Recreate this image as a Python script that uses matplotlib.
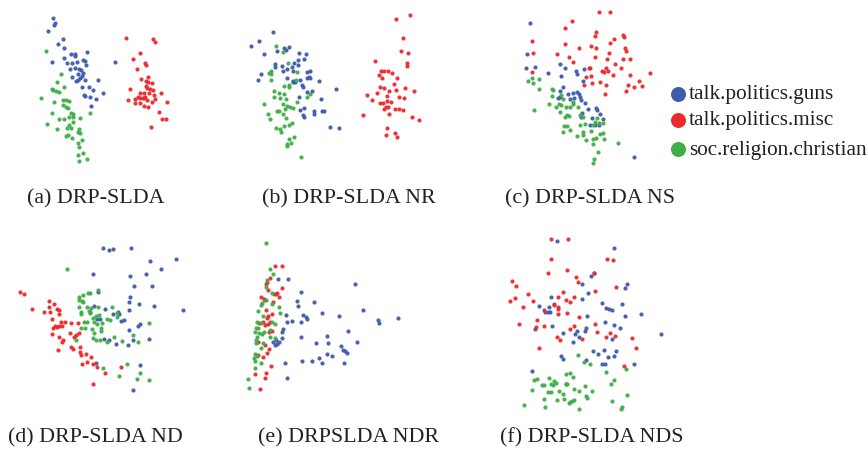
import numpy as np
import matplotlib.pyplot as plt
from matplotlib.lines import Line2D

# 2-D embeddings (x, y), y grows downward
a_guns = [(158,53),(165,68),(163,75),(145,92),(190,117),(173,133),(191,143),(261,155),(212,162),(225,162),
          (226,167),(156,185),(193,173),(200,190),(216,190),(232,185),(248,180),(254,183),(257,195),(226,203),
          (209,208),(238,208),(243,210),(250,218),(235,222),(246,228),(240,235),(217,230),(228,243),(235,240),
          (255,240),(294,240),(246,260),(268,262),(280,270),(310,280),(271,290),(255,289),(288,297),(252,285),
          (273,318),(345,187)]
a_misc = [(377,113),(459,117),(466,125),(419,158),(399,177),(435,190),(437,196),(412,208),(445,232),(424,238),
          (437,242),(443,246),(456,250),(390,267),(437,258),(441,263),(450,267),(460,270),(420,278),(432,280),
          (448,280),(462,284),(482,280),(383,299),(405,297),(413,290),(420,293),(428,293),(433,295),(436,290),
          (442,300),(455,305),(464,298),(405,308),(420,308),(431,318),(443,320),(500,307),(476,337),(485,357),
          (498,357),(453,380)]
a_chr = [(138,152),(184,222),(172,245),(193,260),(155,268),(160,270),(168,272),(176,275),(124,295),(162,305),
         (190,300),(198,300),(207,303),(190,315),(198,320),(205,325),(213,340),(220,342),(208,352),(218,350),
         (155,340),(241,355),(269,338),(178,356),(193,358),(218,365),(140,372),(208,375),(200,383),(214,385),
         (170,387),(237,388),(233,395),(240,400),(197,408),(215,415),(205,405),(246,420),(233,428),(236,440),
         (250,458),(235,464),(262,478),(237,482)]

b_guns = [(129,95),(62,137),(87,124),(102,161),(141,154),(167,150),(177,140),(162,143),(208,160),(227,162),
          (222,176),(203,181),(192,190),(203,196),(185,200),(135,192),(134,202),(157,197),(170,207),(190,213),
          (160,212),(93,221),(83,240),(172,235),(188,242),(196,247),(210,240),(230,215),(240,213),(236,230),
          (230,235),(240,235),(268,242),(215,255),(220,262),(232,275),(246,272),(272,298),(208,290),(318,268),
          (210,330),(222,325),(218,345),(222,350),(252,332),(253,343),(275,332),(282,332),(300,380),(328,384),
          (190,245)]
b_misc = [(539,45),(498,58),(519,113),(512,152),(533,160),(530,190),(530,198),(435,182),(452,212),(461,212),
          (474,214),(486,220),(447,225),(457,233),(502,233),(492,253),(450,262),(462,263),(476,272),(497,270),
          (524,263),(551,272),(440,280),(410,285),(425,300),(472,287),(508,290),(522,293),(449,308),(460,310),
          (470,302),(483,307),(474,320),(461,326),(468,322),(496,328),(506,328),(518,330),(478,343),(398,345),
          (545,352),(566,360),(470,384),(495,398),(502,410),(468,406)]
b_chr = [(137,137),(160,155),(175,190),(200,215),(122,213),(118,218),(124,222),(122,240),(198,240),(176,255),
         (178,262),(162,258),(132,272),(148,278),(162,282),(133,290),(150,293),(168,296),(240,283),(232,292),
         (200,305),(101,313),(160,312),(170,318),(180,320),(188,325),(165,328),(140,332),(148,332),(113,342),
         (160,342),(120,358),(167,355),(185,368),(178,375),(162,378),(137,383),(150,388),(152,395),(193,410),
         (178,418),(183,428),(172,432),(170,438),(213,470)]

c_guns = [(150,70),(140,163),(165,200),(139,205),(205,220),(241,192),(254,205),(242,228),(287,213),(292,222),
          (313,208),(308,242),(250,262),(240,273),(265,283),(278,280),(290,277),(298,283),(283,293),(300,292),
          (304,300),(270,297),(240,290),(233,295),(316,310),(323,328),(347,323),(350,330),(359,342),(305,340),
          (303,350),(335,355),(370,358),(330,376),(345,374),(358,376),(463,472)]
c_misc = [(357,35),(390,35),(277,63),(256,85),(348,97),(344,108),(430,105),(432,110),(155,123),(401,118),
          (390,130),(256,133),(332,137),(348,143),(435,145),(438,152),(297,145),(159,158),(230,163),(268,170),
          (345,170),(387,160),(380,177),(428,178),(450,177),(278,185),(405,193),(377,204),(365,212),(372,216),
          (383,212),(424,203),(326,203),(331,203),(157,217),(332,227),(318,232),(510,220),(450,225),(400,224),
          (360,245),(337,249),(312,254),(477,244),(485,257),(445,256),(462,260),(379,255),(438,273),(376,283)]
c_chr = [(157,233),(145,243),(158,249),(177,238),(176,268),(216,266),(220,270),(215,287),(243,285),(250,297),
         (278,305),(278,313),(207,311),(227,320),(238,312),(243,315),(259,320),(270,322),(293,322),(241,335),
         (262,345),(268,348),(255,352),(163,330),(300,345),(310,350),(352,355),(345,365),(340,375),(357,370),
         (370,370),(253,378),(260,378),(300,375),(316,372),(270,390),(250,396),(333,393),(310,396),(308,405),
         (292,408),(318,420),(338,418),(348,415),(360,403),(368,398),(373,417),(339,432),(414,430),(353,455),
         (343,476),(339,488)]

d_guns = [(309,69),(328,75),(339,73),(394,70),(449,107),(527,103),(482,132),(278,147),(390,153),(439,146),
          (457,184),(402,182),(295,202),(389,215),(388,230),(416,237),(463,243),(548,254),(387,256),(283,242),
          (314,253),(339,268),(356,266),(354,262),(364,288),(373,285),(271,262),(292,283),(300,282),(420,298),
          (415,304),(386,315),(447,343),(400,345),(313,343),(328,345),(349,358),(383,360),(288,413),(420,421),
          (399,494)]
d_misc = [(60,200),(72,208),(95,253),(132,260),(146,228),(147,245),(163,238),(172,252),(150,262),(176,268),
          (178,256),(155,282),(183,290),(195,290),(213,295),(234,293),(166,302),(160,308),(170,306),(176,304),
          (186,302),(155,326),(178,336),(210,325),(228,330),(237,325),(222,336),(185,352),(190,345),(214,365),
          (218,372),(240,366),(173,376),(240,380),(242,390),(257,387),(272,396),(260,410),(246,418),(278,417),
          (291,425),(314,445),(363,425),(279,477)]
d_chr = [(201,131),(293,196),(263,204),(271,203),(248,210),(237,215),(237,225),(246,227),(248,232),(238,246),
         (260,246),(294,245),(337,245),(267,257),(272,250),(242,262),(243,268),(270,265),(287,273),(298,270),
         (352,265),(352,275),(280,280),(322,282),(330,285),(251,290),(262,292),(282,290),(292,296),(305,295),
         (448,294),(244,310),(255,310),(275,312),(283,325),(302,318),(302,310),(278,340),(289,345),(300,345),
         (320,350),(342,336),(365,348),(400,330),(414,352),(227,346),(310,428),(380,418),(420,443),(356,452),
         (412,462),(446,466)]

e_guns = [(144,162),(174,162),(138,208),(212,202),(201,228),(205,242),(252,232),(167,270),(219,270),(228,275),
          (230,283),(277,265),(326,272),(376,178),(400,255),(445,285),(447,295),(505,278),(187,288),(170,292),
          (213,290),(160,312),(157,320),(155,338),(213,335),(139,345),(147,350),(130,350),(142,358),(134,360),
          (290,332),(354,319),(381,352),(259,355),(293,353),(333,363),(340,375),(345,378),(350,384),(292,388),
          (307,392),(267,398),(275,413),(246,408),(215,408),(165,414),(343,413),(171,459)]
e_misc = [(135,123),(157,123),(121,158),(110,172),(108,178),(155,190),(115,196),(132,206),(140,205),(148,217),
          (93,215),(101,221),(106,226),(108,255),(126,267),(115,272),(112,280),(130,232),(87,293),(100,290),
          (105,300),(113,296),(120,290),(118,322),(125,318),(85,350),(104,360),(116,372),(110,385),(84,390),
          (99,396),(122,422),(108,443),(74,448),(105,460),(89,493)]
e_chr = [(107,54),(120,131),(128,148),(112,164),(107,187),(127,205),(107,225),(97,233),(93,240),(125,237),
         (146,245),(85,257),(150,263),(99,272),(80,290),(93,295),(127,290),(135,298),(85,310),(77,308),
         (74,320),(88,325),(97,328),(102,322),(120,315),(80,335),(77,345),(121,335),(135,338),(78,355),
         (99,355),(92,368),(75,388),(80,394),(73,400),(76,408),(92,415),(75,428),(55,462),(57,490)]

f_guns = [(201,49),(373,68),(303,152),(312,145),(277,177),(410,176),(405,190),(293,204),(276,221),(183,217),
          (336,233),(349,248),(356,252),(367,255),(395,237),(148,244),(176,246),(192,238),(165,262),(174,262),
          (180,260),(290,274),(405,272),(452,266),(185,303),(134,312),(218,325),(262,317),(287,308),(284,318),
          (256,328),(266,336),(248,352),(345,292),(371,300),(390,310),(365,342),(513,328),(310,377),(323,388),
          (342,375),(354,397),(377,378),(373,392),(212,392),(219,403),(288,405),(337,418),(344,418),(432,416),
          (125,438),(229,478)]
f_misc = [(182,42),(233,43),(183,101),(352,102),(368,105),(174,143),(231,134),(259,156),(312,144),(264,172),
          (66,168),(79,184),(377,186),(314,198),(220,202),(114,208),(128,227),(204,217),(228,224),(239,230),
          (252,217),(74,220),(60,228),(98,247),(192,240),(203,247),(205,252),(161,255),(204,268),(230,263),
          (268,275),(142,285),(139,306),(162,302),(87,298),(252,302),(241,312),(315,296),(200,335),(210,344),
          (276,342),(320,320),(361,324),(348,335),(374,332),(425,340),(437,368),(146,370),(401,423)]
f_chr = [(264,390),(283,412),(301,417),(348,442),(409,433),(228,447),(241,443),(248,455),(131,466),(141,462),
         (177,460),(193,468),(155,479),(161,480),(183,478),(188,480),(199,475),(228,478),(230,476),(286,483),
         (127,496),(175,502),(184,500),(207,499),(219,506),(252,493),(268,498),(305,499),(363,476),(372,465),
         (162,522),(202,524),(221,523),(239,530),(245,528),(251,525),(287,513),(290,520),(365,528),(410,509),
         (102,540),(166,545),(236,533),(266,552),(392,552),(397,545)]

classes = ["talk.politics.guns", "talk.politics.misc", "soc.religion.christian"]
captions = ["(a) DRP-SLDA", "(b) DRP-SLDA NR", "(c) DRP-SLDA NS",
            "(d) DRP-SLDA ND", "(e) DRPSLDA NDR", "(f) DRP-SLDA NDS"]

colors = ["#3f5bab", "#ec2a2e", "#3fae48"]

W, H = 868, 449
fig = plt.figure(figsize=(W / 100, H / 100), dpi=100)

# panel boxes in pixels: left, top, width, height
boxes = [(0, 0, 200, 170), (230, 0, 200, 170), (480, 0, 180, 170),
         (0, 225, 200, 180), (230, 225, 200, 180), (490, 225, 190, 190)]
panels = [(a_guns, a_misc, a_chr), (b_guns, b_misc, b_chr), (c_guns, c_misc, c_chr),
          (d_guns, d_misc, d_chr), (e_guns, e_misc, e_chr), (f_guns, f_misc, f_chr)]

for (l, t, w, h), pts in zip(boxes, panels):
    ax = fig.add_axes([l / W, 1 - (t + h) / H, w / W, h / H])
    for p, c in zip(pts, colors):
        p = np.array(p)
        ax.scatter(p[:, 0], p[:, 1], s=9, color=c, linewidths=0, alpha=0.95)
    ax.set_xlim(0, w * 3)
    ax.set_ylim(h * 3, 0)
    ax.axis("off")

serif = ["Liberation Serif", "DejaVu Serif"]

# captions
cap_pos = [(27, 199), (262, 199), (505, 199), (8, 438), (258, 438), (500, 438)]
for (x, y), txt in zip(cap_pos, captions):
    fig.text(x / W, 1 - y / H, txt, family=serif, fontsize=15.8,
             ha="left", va="center", color="#222222")

# legend at the right
leg_y = [94, 120, 149]
for y, name, c in zip(leg_y, classes, colors):
    fig.add_artist(Line2D([678 / W], [1 - y / H], marker="o", markersize=10.8,
                          color=c, markeredgewidth=0, transform=fig.transFigure))
    fig.text(689 / W, 1 - (y + 1) / H, name, family=serif, fontsize=15.3,
             ha="left", va="center", color="#222222")

fig.savefig("out.png", dpi=100)
